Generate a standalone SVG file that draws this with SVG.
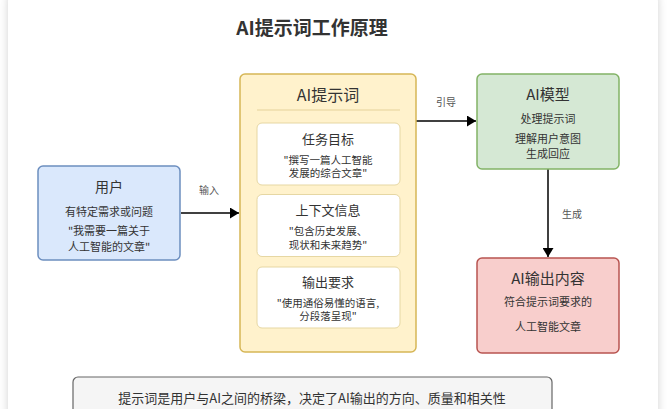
<svg xmlns="http://www.w3.org/2000/svg" width="670" height="409" viewBox="0 0 670 409">
<defs>
<filter id="sh" x="-5%" y="-5%" width="110%" height="110%">
<feDropShadow dx="0" dy="0" stdDeviation="4" flood-color="#000" flood-opacity="0.18"/>
</filter>
<marker id="ah" markerWidth="10" markerHeight="11" refX="9" refY="5.5" orient="auto" markerUnits="userSpaceOnUse">
<path d="M0,0 L9,5.5 L0,11 Z" fill="#000"/>
</marker>
<style>
text{font-family:"Noto Sans CJK SC","Noto Sans",sans-serif;text-anchor:middle;fill:#333}
.t{font-size:15px}
.h{font-size:13px}
.s{font-size:11px}
.q{font-size:10.5px}
.l{font-size:10px;fill:#555}
.in{fill:#fff;stroke:#e6d7a3;stroke-width:1}
.c{stroke:#000;stroke-width:1.5;fill:none;marker-end:url(#ah)}
</style>
</defs>
<rect width="670" height="409" fill="#fff"/>
<rect x="8" y="-12" width="650" height="440" rx="14" fill="#fff" filter="url(#sh)"/>
<text x="312" y="35" style="font-size:19px;font-weight:bold;fill:#333">AI提示词工作原理</text>

<g id="connectors">
<line class="c" x1="181" y1="213" x2="239" y2="213"/>
<text class="l" x="209" y="194">输入</text>
<line class="c" x1="416" y1="121" x2="476" y2="121"/>
<text class="l" x="446" y="106">引导</text>
<line class="c" x1="548" y1="169" x2="548" y2="257"/>
<text class="l" x="572" y="218">生成</text>
</g>

<g id="user">
<rect x="38" y="166" width="142" height="94" rx="5" fill="#dae8fc" stroke="#6c8ebf" stroke-width="1.5"/>
<text class="h" x="109" y="192" style="font-size:14px">用户</text>
<text class="s" x="109" y="215.5">有特定需求或问题</text>
<text class="s" x="109" y="235">"我需要一篇关于</text>
<text class="s" x="109" y="250.5">人工智能的文章"</text>
</g>

<g id="prompt">
<rect x="240" y="74" width="176" height="278" rx="5" fill="#fff2cc" stroke="#d6b656" stroke-width="1.5"/>
<text x="328" y="101" style="font-size:16px">AI提示词</text>
<line x1="257" y1="110" x2="400" y2="110" stroke="#e6d29a" stroke-width="1.2"/>
</g>
<g id="task">
<rect class="in" x="257" y="123" width="143" height="62" rx="5"/>
<text class="h" x="328" y="143.5">任务目标</text>
<text class="q" x="328" y="163.5">"撰写一篇人工智能</text>
<text class="q" x="328" y="177">发展的综合文章"</text>
</g>
<g id="context">
<rect class="in" x="257" y="194.5" width="143" height="62" rx="5"/>
<text class="h" x="328" y="215">上下文信息</text>
<text class="q" x="328" y="235">"包含历史发展、</text>
<text class="q" x="328" y="248.5">现状和未来趋势"</text>
</g>
<g id="output-req">
<rect class="in" x="257" y="267" width="143" height="61" rx="5"/>
<text class="h" x="328" y="286.5">输出要求</text>
<text class="q" x="328" y="306.5">"使用通俗易懂的语言,</text>
<text class="q" x="328" y="320">分段落呈现"</text>
</g>

<g id="model">
<rect x="477" y="74" width="142" height="95" rx="5" fill="#d5e8d4" stroke="#82b366" stroke-width="1.5"/>
<text class="t" x="548" y="100">AI模型</text>
<text class="s" x="548" y="123">处理提示词</text>
<text class="s" x="548" y="143">理解用户意图</text>
<text class="s" x="548" y="158">生成回应</text>
</g>

<g id="result">
<rect x="477" y="258" width="142" height="95" rx="5" fill="#f8cecc" stroke="#b85450" stroke-width="1.5"/>
<text class="t" x="548" y="284">AI输出内容</text>
<text class="s" x="548" y="306">符合提示词要求的</text>
<text class="s" x="548" y="330.5">人工智能文章</text>
</g>

<g id="note">
<rect x="73" y="377" width="479" height="50" rx="5" fill="#f5f5f5" stroke="#666" stroke-width="1.2"/>
<text x="312" y="402.5" style="font-size:13px">提示词是用户与AI之间的桥梁，决定了AI输出的方向、质量和相关性</text>
</g>
</svg>
